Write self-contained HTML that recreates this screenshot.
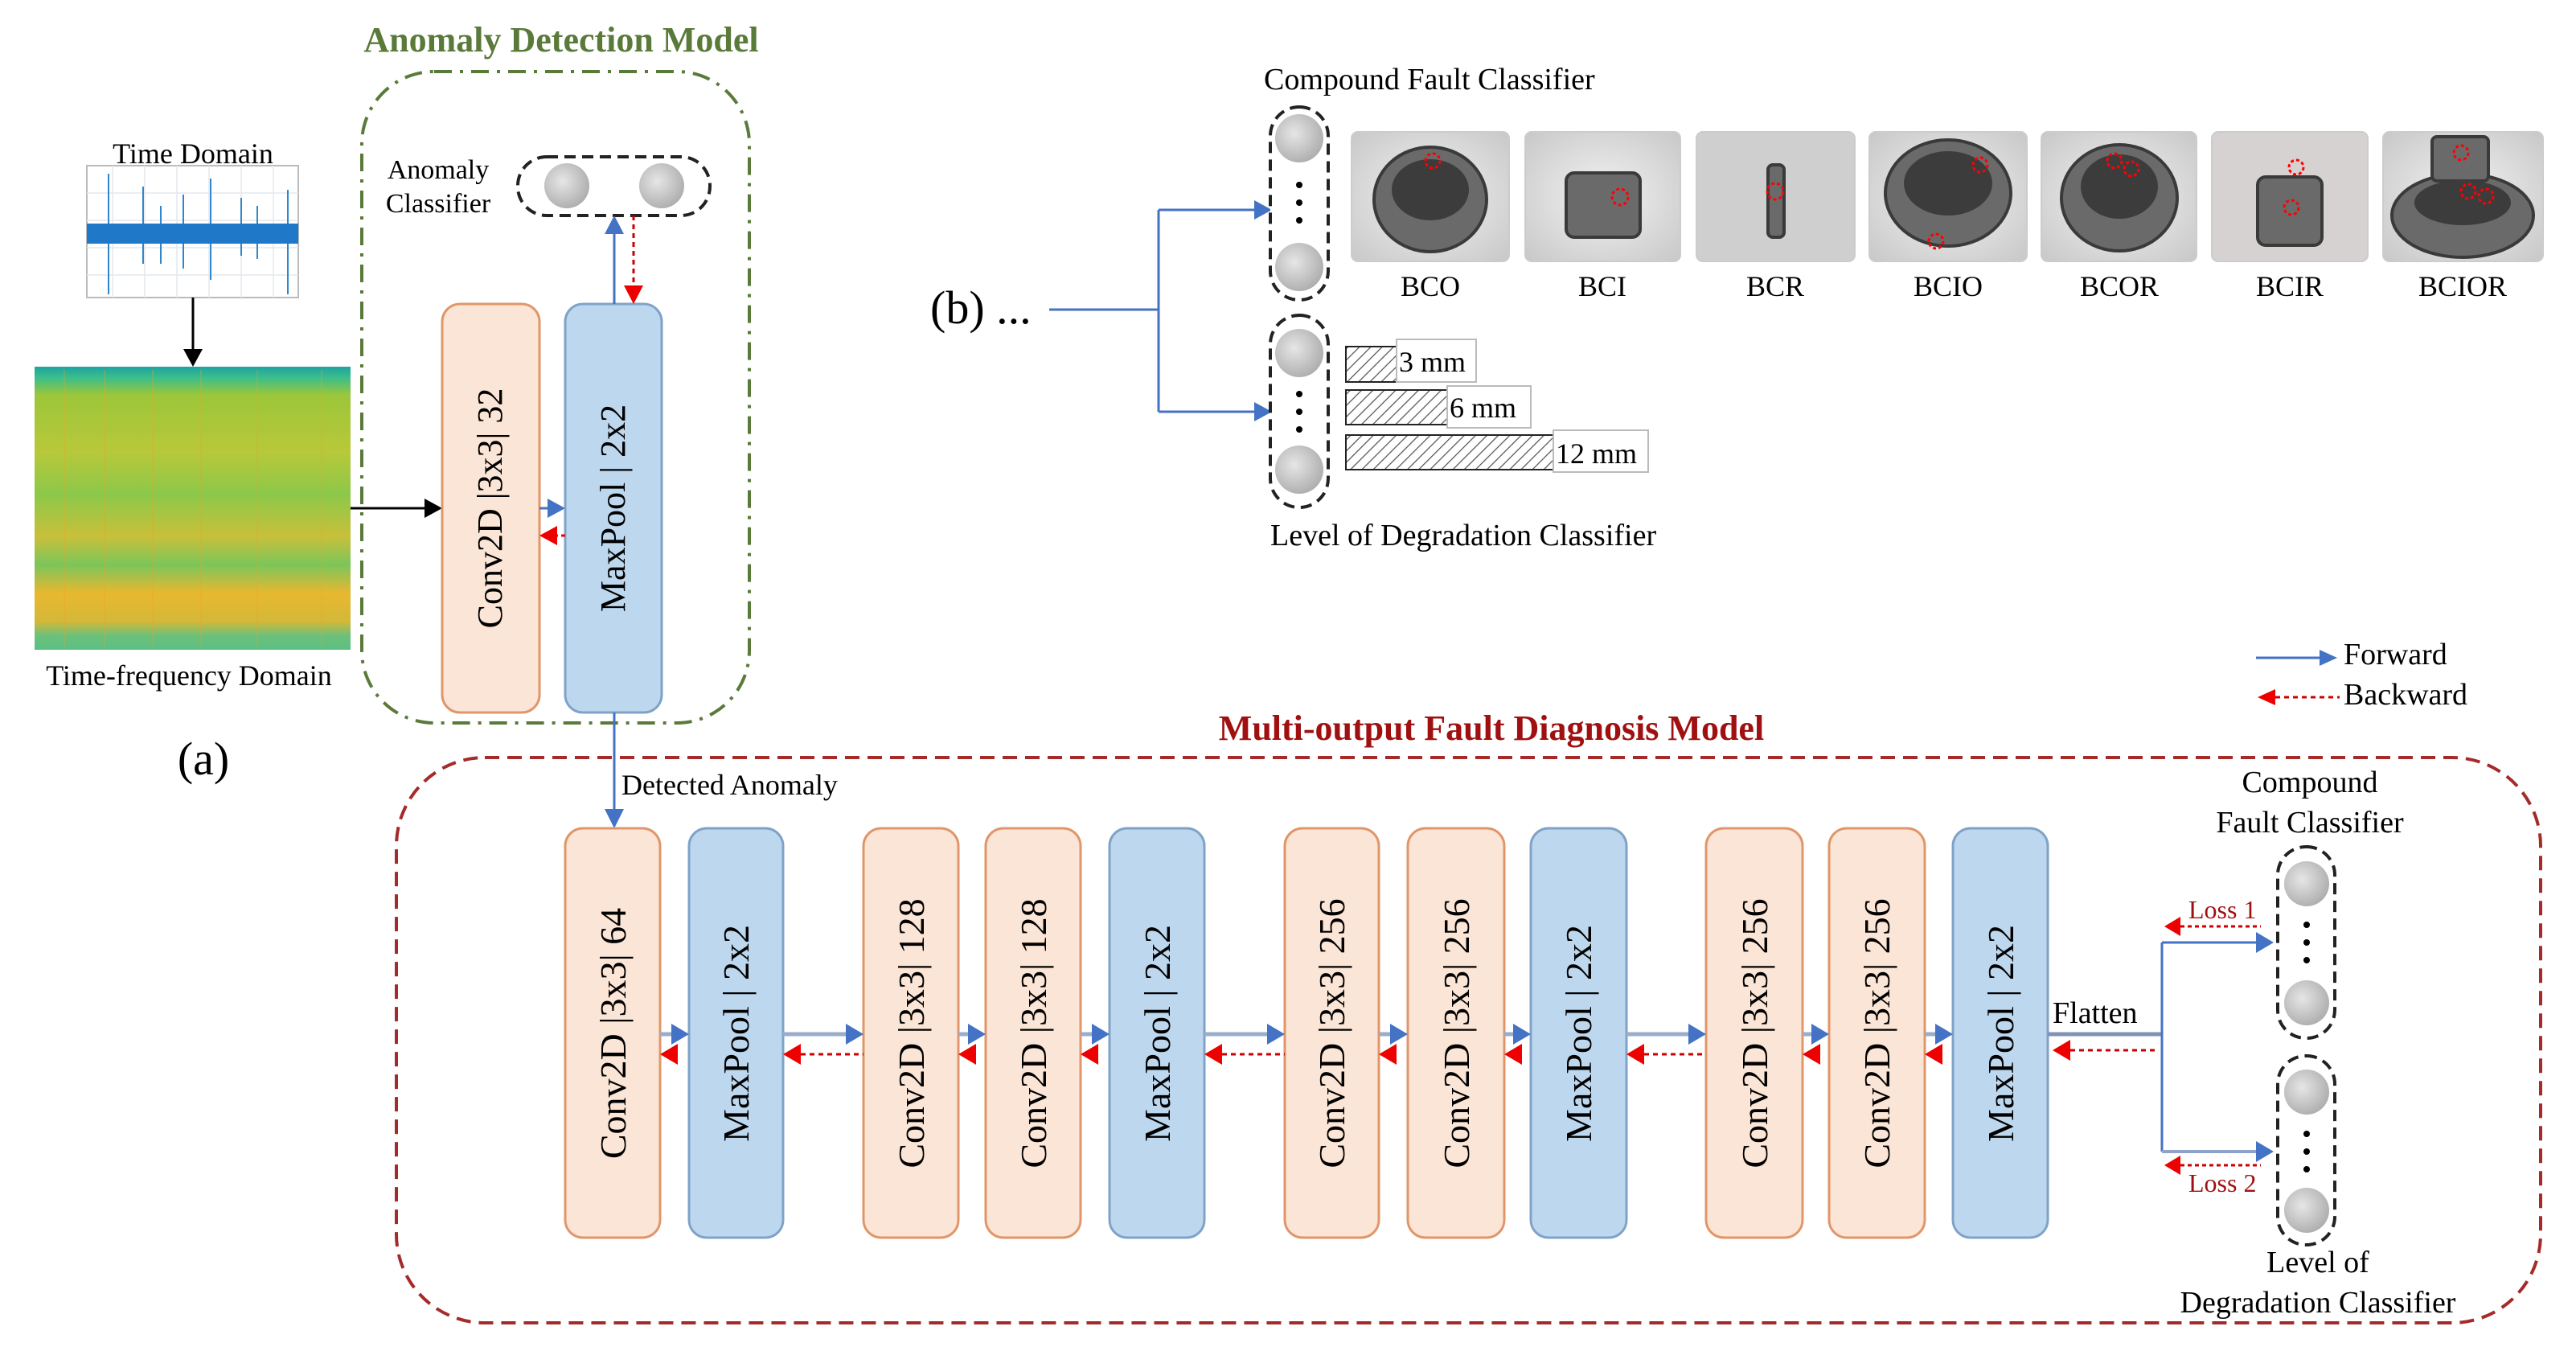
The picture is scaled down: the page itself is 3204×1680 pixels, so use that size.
<!DOCTYPE html>
<html><head><meta charset="utf-8"><style>
html,body{margin:0;padding:0;background:#fff}
svg{display:block}
text{font-family:"Liberation Serif",serif}
</style></head><body>
<svg width="3204" height="1680" viewBox="0 0 3204 1680" xmlns="http://www.w3.org/2000/svg">
<defs>
<linearGradient id="spec" x1="0" y1="0" x2="0" y2="1">
<stop offset="0" stop-color="#1fa3a0"/>
<stop offset="0.04" stop-color="#3cbf8a"/>
<stop offset="0.1" stop-color="#9cc63a"/>
<stop offset="0.3" stop-color="#b8c83a"/>
<stop offset="0.45" stop-color="#8cc84a"/>
<stop offset="0.6" stop-color="#c8c03a"/>
<stop offset="0.7" stop-color="#7cc55a"/>
<stop offset="0.8" stop-color="#e8b830"/>
<stop offset="0.9" stop-color="#d4b838"/>
<stop offset="0.95" stop-color="#6cc07a"/>
<stop offset="1" stop-color="#5cbf84"/>
</linearGradient>
<radialGradient id="nd" cx="0.4" cy="0.4" r="0.7">
<stop offset="0" stop-color="#e6e6e6"/><stop offset="1" stop-color="#a8a8a8"/>
</radialGradient>
<pattern id="hatch" width="10" height="10" patternUnits="userSpaceOnUse" patternTransform="rotate(45)">
<rect width="10" height="10" fill="#fff"/><line x1="0" y1="0" x2="0" y2="10" stroke="#555" stroke-width="2.5"/>
</pattern>
<radialGradient id="ph" cx="0.5" cy="0.5" r="0.7">
<stop offset="0" stop-color="#f2f2f2"/><stop offset="1" stop-color="#c8c8c8"/>
</radialGradient>
</defs>

<!-- Anomaly detection -->
<text x="698" y="64" font-size="44" font-weight="bold" fill="#5a7a3a" text-anchor="middle">Anomaly Detection Model</text>
<rect x="450" y="89" width="482" height="810" rx="90" fill="none" stroke="#5a7a3a" stroke-width="4" stroke-dasharray="22 10 4 10"/>

<text x="240" y="203" font-size="36" text-anchor="middle">Time Domain</text>
<rect x="108" y="206" width="263" height="164" fill="#fff" stroke="#bbb" stroke-width="2"/>
<g stroke="#e3e8ee" stroke-width="1.5">
<line x1="140" y1="206" x2="140" y2="370"/><line x1="180" y1="206" x2="180" y2="370"/><line x1="220" y1="206" x2="220" y2="370"/><line x1="260" y1="206" x2="260" y2="370"/><line x1="300" y1="206" x2="300" y2="370"/><line x1="340" y1="206" x2="340" y2="370"/>
<line x1="108" y1="240" x2="371" y2="240"/><line x1="108" y1="274" x2="371" y2="274"/><line x1="108" y1="308" x2="371" y2="308"/><line x1="108" y1="342" x2="371" y2="342"/>
</g>
<g stroke="#2f86cc" stroke-width="2">
<line x1="135" y1="216" x2="135" y2="366"/><line x1="178" y1="232" x2="178" y2="328"/><line x1="200" y1="256" x2="200" y2="328"/><line x1="228" y1="242" x2="228" y2="334"/><line x1="262" y1="222" x2="262" y2="348"/><line x1="300" y1="246" x2="300" y2="318"/><line x1="320" y1="256" x2="320" y2="322"/><line x1="358" y1="236" x2="358" y2="366"/>
</g>
<rect x="108" y="278" width="263" height="25" fill="#1f78c8"/>
<line x1="240" y1="370" x2="240" y2="436" stroke="#000" stroke-width="3"/>
<polygon points="228,434 252,434 240,456" fill="#000"/>

<rect x="43" y="456" width="393" height="352" fill="url(#spec)"/>
<g opacity="0.25" stroke="#f6a020" stroke-width="2">
<line x1="80" y1="460" x2="80" y2="806"/><line x1="130" y1="460" x2="130" y2="806"/><line x1="190" y1="460" x2="190" y2="806"/><line x1="250" y1="460" x2="250" y2="806"/><line x1="320" y1="460" x2="320" y2="806"/><line x1="400" y1="460" x2="400" y2="806"/>
</g>
<text x="235" y="852" font-size="36" text-anchor="middle">Time-frequency Domain</text>
<text x="253" y="963" font-size="58" text-anchor="middle">(a)</text>

<line x1="436" y1="632" x2="528" y2="632" stroke="#000" stroke-width="3"/>
<polygon points="528,620 550,632 528,644" fill="#000"/>

<text x="545" y="222" font-size="34" text-anchor="middle">Anomaly</text>
<text x="545" y="264" font-size="34" text-anchor="middle">Classifier</text>
<rect x="644" y="195" width="239" height="73" rx="36" fill="#fff" stroke="#222" stroke-width="4" stroke-dasharray="14 8"/>
<circle cx="705" cy="231" r="28" fill="url(#nd)"/>
<circle cx="823" cy="231" r="28" fill="url(#nd)"/>

<rect x="550" y="378" width="121" height="508" rx="22" fill="#fbe5d6" stroke="#e0966a" stroke-width="3"/>
<rect x="703" y="378" width="120" height="508" rx="22" fill="#bdd7ee" stroke="#7fa3c8" stroke-width="3"/>
<text transform="translate(624,632) rotate(-90)" font-size="44" text-anchor="middle">Conv2D |3x3| 32</text>
<text transform="translate(777,632) rotate(-90)" font-size="44" text-anchor="middle">MaxPool | 2x2</text>
<line x1="671" y1="632" x2="683" y2="632" stroke="#4472c4" stroke-width="3"/>
<polygon points="681,620 703,632 681,644" fill="#4472c4"/>
<line x1="703" y1="666" x2="690" y2="666" stroke="#e00" stroke-width="3" stroke-dasharray="5 4"/>
<polygon points="693,654 671,666 693,678" fill="#e00"/>
<line x1="764" y1="378" x2="764" y2="290" stroke="#4472c4" stroke-width="3"/>
<polygon points="752,291 764,268 776,291" fill="#4472c4"/>
<line x1="788" y1="268" x2="788" y2="357" stroke="#c00" stroke-width="3" stroke-dasharray="6 5"/>
<polygon points="776,355 800,355 788,378" fill="#e00"/>

<!-- (b) -->
<text x="1572" y="111" font-size="38">Compound Fault Classifier</text>
<text x="1157" y="402" font-size="58">(b) ...</text>
<line x1="1305" y1="385" x2="1441" y2="385" stroke="#4472c4" stroke-width="3"/>
<line x1="1441" y1="261" x2="1441" y2="512" stroke="#4472c4" stroke-width="3"/>
<line x1="1441" y1="261" x2="1562" y2="261" stroke="#4472c4" stroke-width="3"/>
<line x1="1441" y1="512" x2="1562" y2="512" stroke="#4472c4" stroke-width="3"/>
<polygon points="1560,249 1582,261 1560,273" fill="#4472c4"/>
<polygon points="1560,500 1582,512 1560,524" fill="#4472c4"/>

<rect x="1580" y="133" width="72" height="240" rx="36" fill="#fff" stroke="#222" stroke-width="4" stroke-dasharray="14 8"/>
<circle cx="1616" cy="172" r="30" fill="url(#nd)"/>
<circle cx="1616" cy="332" r="30" fill="url(#nd)"/>
<circle cx="1616" cy="230" r="4"/><circle cx="1616" cy="252" r="4"/><circle cx="1616" cy="274" r="4"/>
<rect x="1580" y="392" width="72" height="239" rx="36" fill="#fff" stroke="#222" stroke-width="4" stroke-dasharray="14 8"/>
<circle cx="1616" cy="439" r="30" fill="url(#nd)"/>
<circle cx="1616" cy="584" r="30" fill="url(#nd)"/>
<circle cx="1616" cy="490" r="4"/><circle cx="1616" cy="512" r="4"/><circle cx="1616" cy="534" r="4"/>
<text x="1580" y="678" font-size="38">Level of Degradation Classifier</text>

<!-- photos -->
<g stroke="#ccc" stroke-width="2">
<rect x="1681" y="164" width="196" height="161" rx="8" fill="url(#ph)"/>
<rect x="1897" y="164" width="193" height="161" rx="8" fill="url(#ph)"/>
<rect x="2110" y="164" width="197" height="161" rx="8" fill="#cfcfcf"/>
<rect x="2325" y="164" width="196" height="161" rx="8" fill="url(#ph)"/>
<rect x="2539" y="164" width="193" height="161" rx="8" fill="url(#ph)"/>
<rect x="2751" y="164" width="194" height="161" rx="8" fill="#d6d2d2"/>
<rect x="2964" y="164" width="199" height="161" rx="8" fill="url(#ph)"/>
</g>
<g fill="#6a6a6a" stroke="#3a3a3a" stroke-width="4">
<ellipse cx="1779" cy="248" rx="70" ry="65"/>
<rect x="1948" y="215" width="92" height="80" rx="10"/>
<rect x="2199" y="205" width="20" height="90" rx="6"/>
<ellipse cx="2423" cy="240" rx="78" ry="66"/>
<ellipse cx="2636" cy="246" rx="72" ry="66"/>
<rect x="2808" y="220" width="80" height="85" rx="10"/>
<ellipse cx="3063" cy="268" rx="88" ry="52"/>
<rect x="3025" y="170" width="70" height="55" rx="6"/>
</g>
<g fill="#3c3c3c">
<ellipse cx="1779" cy="236" rx="48" ry="38"/>
<ellipse cx="2423" cy="228" rx="55" ry="40"/>
<ellipse cx="2636" cy="232" rx="48" ry="40"/>
<ellipse cx="3063" cy="252" rx="60" ry="28"/>
</g>
<g fill="none" stroke="#f00" stroke-width="3" stroke-dasharray="4 3">
<circle cx="1782" cy="200" r="9"/><circle cx="2015" cy="245" r="10"/><circle cx="2208" cy="238" r="10"/>
<circle cx="2463" cy="205" r="9"/><circle cx="2408" cy="300" r="9"/>
<circle cx="2630" cy="200" r="9"/><circle cx="2651" cy="210" r="9"/>
<circle cx="2856" cy="208" r="9"/><circle cx="2850" cy="258" r="9"/>
<circle cx="3061" cy="190" r="9"/><circle cx="3070" cy="238" r="9"/><circle cx="3092" cy="244" r="9"/>
</g>
<g font-size="36" text-anchor="middle">
<text x="1779" y="368">BCO</text><text x="1993" y="368">BCI</text><text x="2208" y="368">BCR</text>
<text x="2423" y="368">BCIO</text><text x="2636" y="368">BCOR</text><text x="2848" y="368">BCIR</text><text x="3063" y="368">BCIOR</text>
</g>

<rect x="1674" y="431" width="63" height="44" fill="url(#hatch)" stroke="#222" stroke-width="2"/>
<rect x="1737" y="422" width="99" height="53" fill="#fff" stroke="#bbb" stroke-width="2"/>
<text x="1740" y="462" font-size="36">3 mm</text>
<rect x="1674" y="485" width="126" height="43" fill="url(#hatch)" stroke="#222" stroke-width="2"/>
<rect x="1800" y="480" width="104" height="52" fill="#fff" stroke="#bbb" stroke-width="2"/>
<text x="1803" y="519" font-size="36">6 mm</text>
<rect x="1674" y="541" width="258" height="43" fill="url(#hatch)" stroke="#222" stroke-width="2"/>
<rect x="1932" y="535" width="118" height="52" fill="#fff" stroke="#bbb" stroke-width="2"/>
<text x="1935" y="576" font-size="36">12 mm</text>

<!-- legend -->
<line x1="2806" y1="818" x2="2885" y2="818" stroke="#4472c4" stroke-width="3"/>
<polygon points="2885,808 2907,818 2885,828" fill="#4472c4"/>
<text x="2915" y="826" font-size="38">Forward</text>
<line x1="2830" y1="867" x2="2910" y2="867" stroke="#c00" stroke-width="3" stroke-dasharray="6 5"/>
<polygon points="2830,857 2808,867 2830,877" fill="#e00"/>
<text x="2915" y="876" font-size="38">Backward</text>

<!-- Multi-output -->
<text x="1855" y="920" font-size="44" font-weight="bold" fill="#a01010" text-anchor="middle">Multi-output Fault Diagnosis Model</text>
<rect x="493" y="942" width="2667" height="703" rx="110" fill="none" stroke="#a52a2a" stroke-width="4" stroke-dasharray="18 10"/>
<line x1="764" y1="886" x2="764" y2="1008" stroke="#4472c4" stroke-width="3"/>
<polygon points="752,1006 776,1006 764,1030" fill="#4472c4"/>
<text x="773" y="988" font-size="36">Detected Anomaly</text>

<g stroke-width="3">
<rect x="703" y="1030" width="118" height="509" rx="22" fill="#fbe5d6" stroke="#e0966a"/>
<rect x="857" y="1030" width="117" height="509" rx="22" fill="#bdd7ee" stroke="#7fa3c8"/>
<rect x="1074" y="1030" width="118" height="509" rx="22" fill="#fbe5d6" stroke="#e0966a"/>
<rect x="1226" y="1030" width="118" height="509" rx="22" fill="#fbe5d6" stroke="#e0966a"/>
<rect x="1380" y="1030" width="118" height="509" rx="22" fill="#bdd7ee" stroke="#7fa3c8"/>
<rect x="1598" y="1030" width="117" height="509" rx="22" fill="#fbe5d6" stroke="#e0966a"/>
<rect x="1751" y="1030" width="120" height="509" rx="22" fill="#fbe5d6" stroke="#e0966a"/>
<rect x="1904" y="1030" width="119" height="509" rx="22" fill="#bdd7ee" stroke="#7fa3c8"/>
<rect x="2122" y="1030" width="120" height="509" rx="22" fill="#fbe5d6" stroke="#e0966a"/>
<rect x="2275" y="1030" width="119" height="509" rx="22" fill="#fbe5d6" stroke="#e0966a"/>
<rect x="2429" y="1030" width="118" height="509" rx="22" fill="#bdd7ee" stroke="#7fa3c8"/>
</g>
<g font-size="46" text-anchor="middle">
<text transform="translate(778,1285) rotate(-90)">Conv2D |3x3| 64</text>
<text transform="translate(931,1285) rotate(-90)">MaxPool | 2x2</text>
<text transform="translate(1149,1285) rotate(-90)">Conv2D |3x3| 128</text>
<text transform="translate(1301,1285) rotate(-90)">Conv2D |3x3| 128</text>
<text transform="translate(1455,1285) rotate(-90)">MaxPool | 2x2</text>
<text transform="translate(1672,1285) rotate(-90)">Conv2D |3x3| 256</text>
<text transform="translate(1827,1285) rotate(-90)">Conv2D |3x3| 256</text>
<text transform="translate(1979,1285) rotate(-90)">MaxPool | 2x2</text>
<text transform="translate(2198,1285) rotate(-90)">Conv2D |3x3| 256</text>
<text transform="translate(2350,1285) rotate(-90)">Conv2D |3x3| 256</text>
<text transform="translate(2504,1285) rotate(-90)">MaxPool | 2x2</text>
</g>

<g>
<g stroke="#9aaecb" stroke-width="5">
<line x1="821" y1="1286" x2="837" y2="1286"/><line x1="974" y1="1286" x2="1054" y2="1286"/><line x1="1192" y1="1286" x2="1206" y2="1286"/><line x1="1344" y1="1286" x2="1360" y2="1286"/><line x1="1498" y1="1286" x2="1578" y2="1286"/><line x1="1715" y1="1286" x2="1731" y2="1286"/><line x1="1871" y1="1286" x2="1884" y2="1286"/><line x1="2023" y1="1286" x2="2102" y2="1286"/><line x1="2242" y1="1286" x2="2255" y2="1286"/><line x1="2394" y1="1286" x2="2409" y2="1286"/>
</g>
<g fill="#4472c4">
<polygon points="835,1273 857,1286 835,1299"/><polygon points="1052,1273 1074,1286 1052,1299"/><polygon points="1204,1273 1226,1286 1204,1299"/><polygon points="1358,1273 1380,1286 1358,1299"/><polygon points="1576,1273 1598,1286 1576,1299"/><polygon points="1729,1273 1751,1286 1729,1299"/><polygon points="1882,1273 1904,1286 1882,1299"/><polygon points="2100,1273 2122,1286 2100,1299"/><polygon points="2253,1273 2275,1286 2253,1299"/><polygon points="2407,1273 2429,1286 2407,1299"/>
</g>
<g stroke="#c00" stroke-width="3" stroke-dasharray="6 5">
<line x1="996" y1="1311" x2="1074" y2="1311"/><line x1="1520" y1="1311" x2="1598" y2="1311"/><line x1="2045" y1="1311" x2="2122" y2="1311"/>
</g>
<g fill="#e00">
<polygon points="843,1298 821,1311 843,1324"/><polygon points="996,1298 974,1311 996,1324"/><polygon points="1214,1298 1192,1311 1214,1324"/><polygon points="1366,1298 1344,1311 1366,1324"/><polygon points="1520,1298 1498,1311 1520,1324"/><polygon points="1737,1298 1715,1311 1737,1324"/><polygon points="1893,1298 1871,1311 1893,1324"/><polygon points="2045,1298 2023,1311 2045,1324"/><polygon points="2264,1298 2242,1311 2264,1324"/><polygon points="2416,1298 2394,1311 2416,1324"/>
</g>
</g>

<text x="2553" y="1272" font-size="38">Flatten</text>
<line x1="2547" y1="1286" x2="2689" y2="1286" stroke="#7f93b5" stroke-width="5"/>
<line x1="2689" y1="1172" x2="2689" y2="1432" stroke="#4472c4" stroke-width="3"/>
<line x1="2689" y1="1172" x2="2808" y2="1172" stroke="#4472c4" stroke-width="3"/>
<line x1="2689" y1="1432" x2="2808" y2="1432" stroke="#8fa3c8" stroke-width="4"/>
<polygon points="2806,1159 2828,1172 2806,1185" fill="#4472c4"/>
<polygon points="2806,1419 2828,1432 2806,1445" fill="#4472c4"/>
<line x1="2575" y1="1306" x2="2680" y2="1306" stroke="#c00" stroke-width="3" stroke-dasharray="6 5"/>
<polygon points="2575,1293 2553,1306 2575,1319" fill="#e00"/>
<line x1="2712" y1="1152" x2="2812" y2="1152" stroke="#c00" stroke-width="3" stroke-dasharray="5 4"/>
<polygon points="2712,1140 2692,1152 2712,1164" fill="#e00"/>
<text x="2722" y="1142" font-size="32" fill="#a01010">Loss 1</text>
<line x1="2712" y1="1449" x2="2812" y2="1449" stroke="#c00" stroke-width="3" stroke-dasharray="5 4"/>
<polygon points="2712,1437 2692,1449 2712,1461" fill="#e00"/>
<text x="2722" y="1482" font-size="32" fill="#a01010">Loss 2</text>

<text x="2873" y="985" font-size="38" text-anchor="middle">Compound</text>
<text x="2873" y="1035" font-size="38" text-anchor="middle">Fault Classifier</text>
<rect x="2833" y="1053" width="71" height="238" rx="35" fill="#fff" stroke="#222" stroke-width="4" stroke-dasharray="14 8"/>
<circle cx="2869" cy="1099" r="28" fill="url(#nd)"/>
<circle cx="2869" cy="1247" r="28" fill="url(#nd)"/>
<circle cx="2869" cy="1150" r="4"/><circle cx="2869" cy="1172" r="4"/><circle cx="2869" cy="1194" r="4"/>
<rect x="2833" y="1313" width="71" height="235" rx="35" fill="#fff" stroke="#222" stroke-width="4" stroke-dasharray="14 8"/>
<circle cx="2869" cy="1358" r="28" fill="url(#nd)"/>
<circle cx="2869" cy="1505" r="28" fill="url(#nd)"/>
<circle cx="2869" cy="1410" r="4"/><circle cx="2869" cy="1432" r="4"/><circle cx="2869" cy="1454" r="4"/>
<text x="2883" y="1582" font-size="38" text-anchor="middle">Level of</text>
<text x="2883" y="1632" font-size="38" text-anchor="middle">Degradation Classifier</text>
</svg>
</body></html>
